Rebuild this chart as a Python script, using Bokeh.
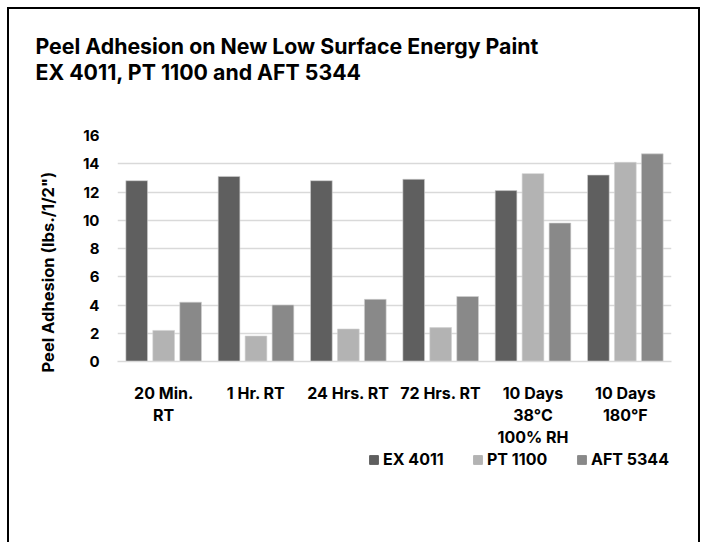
from bokeh.plotting import figure
from bokeh.layouts import column
from bokeh.models import (ColumnDataSource, FactorRange, Range1d, FixedTicker, Title,
                          Legend, LegendItem)
from bokeh.transform import dodge
from bokeh.embed import file_html
from bokeh.resources import INLINE

# ---- data ----
categories = ["20 Min.\nRT", "1 Hr. RT", "24 Hrs. RT", "72 Hrs. RT",
              "10 Days\n38°C\n100% RH", "10 Days\n180°F"]
ex_4011 = [12.8, 13.1, 12.8, 12.9, 12.1, 13.2]
pt_1100 = [2.2, 1.8, 2.3, 2.4, 13.3, 14.1]
aft_5344 = [4.2, 4.0, 4.4, 4.6, 9.8, 14.7]
series_names = ["EX 4011", "PT 1100", "AFT 5344"]
y_ticks = [0, 2, 4, 6, 8, 10, 12, 14, 16]
title_text = "Peel Adhesion on New Low Surface Energy Paint\nEX 4011, PT 1100 and AFT 5344"
y_title = 'Peel Adhesion (lbs./1/2")'

FONT = "Inter"
colors = ["#5f5f5f", "#b3b3b3", "#898989"]

W = 705
H_MAIN, H_LEG = 449, 93
ML, MR, MB = 117, 34, 87

source = ColumnDataSource(dict(cat=categories, ex=ex_4011, pt=pt_1100, aft=aft_5344))

p = figure(width=W, height=H_MAIN, x_range=FactorRange(*categories),
           y_range=Range1d(0, 16), output_backend="svg", toolbar_location=None,
           min_border_left=ML, min_border_right=MR, min_border_top=0,
           min_border_bottom=MB)
p.border_fill_color = None
p.background_fill_color = "white"
p.outline_line_color = None
p.title.text = ""

# spacer between title and plot area, then the two-line title
p.add_layout(Title(text=" ", text_font_size="2px", standoff=16), "above")
p.add_layout(Title(text=title_text, align="left", offset=-82, standoff=60,
                   text_font=FONT, text_font_style="bold", text_font_size="21.3px",
                   text_color="#000000", text_line_height=1.02), "above")

offs = [-0.292, 0.0, 0.292]
cols = ["ex", "pt", "aft"]
for off, col, c in zip(offs, cols, colors):
    p.vbar(x=dodge("cat", off, range=p.x_range), top=col, width=0.235,
           source=source, fill_color=c, line_color="#d0d0d0", line_width=0.6)

# axes
p.yaxis.ticker = FixedTicker(ticks=y_ticks)
p.yaxis.axis_line_color = None
p.yaxis.major_tick_line_color = None
p.yaxis.minor_tick_line_color = None
p.yaxis.major_tick_out = 0
p.yaxis.major_label_standoff = 18
p.yaxis.major_label_text_font_size = "15px"

# y axis title, placed as a side title so it can sit slightly low like the original
p.add_layout(Title(text=y_title, align="left", offset=-11, standoff=44,
                   text_font=FONT, text_font_style="bold", text_font_size="16.5px",
                   text_color="#000000"), "left")

p.xaxis.axis_line_color = "#d9d9d9"
p.xaxis.axis_line_width = 1.5
p.xaxis.major_tick_line_color = None
p.xaxis.major_tick_out = 0
p.xaxis.major_label_standoff = 21
p.xaxis.major_label_text_line_height = 1.1
p.xaxis.major_label_text_font_size = "16px"
for ax in (p.xaxis, p.yaxis):
    ax.major_label_text_font = FONT
    ax.major_label_text_font_style = "bold"
    ax.major_label_text_color = "#000000"

p.xgrid.grid_line_color = None
p.ygrid.ticker = FixedTicker(ticks=y_ticks)
p.ygrid.grid_line_color = "#d9d9d9"
p.ygrid.grid_line_width = 1.5

# ---- legend strip below the chart (series renderers kept out of view) ----
q = figure(width=W, height=H_LEG, x_range=Range1d(-20, -19), y_range=Range1d(100, 101),
           output_backend="svg", toolbar_location=None,
           x_axis_location=None, y_axis_location=None,
           min_border=0, min_border_left=0, min_border_right=0,
           min_border_top=0, min_border_bottom=0)
q.border_fill_color = None
q.background_fill_color = None
q.outline_line_color = None
q.xgrid.visible = False
q.ygrid.visible = False
q.title.text = ""
items = []
for off, col, c, name in zip(offs, cols, colors, series_names):
    r = q.vbar(x=dodge("cat", off, range=p.x_range), top=col, width=0.235,
               source=source, fill_color=c, line_color=c)
    items.append(LegendItem(label=name, renderers=[r]))
lg = Legend(items=items, orientation="horizontal", location=(251, 73),
            padding=0, margin=0, border_line_color=None, background_fill_alpha=0,
            glyph_width=11, glyph_height=11, label_standoff=4, spacing=22,
            label_width=67, label_text_font=FONT, label_text_font_style="bold",
            label_text_font_size="16px", label_text_color="#000000")
q.add_layout(lg, "center")

layout = column(p, q, spacing=0)
layout.styles = {"box-shadow": ("inset 7px 7px 0 0 #ffffff, inset -5px 0 0 0 #ffffff, "
                                "inset 9px 9px 0 0 #000000, inset -7px 0 0 0 #000000")}

open("out.html", "w").write(file_html(layout, INLINE))
